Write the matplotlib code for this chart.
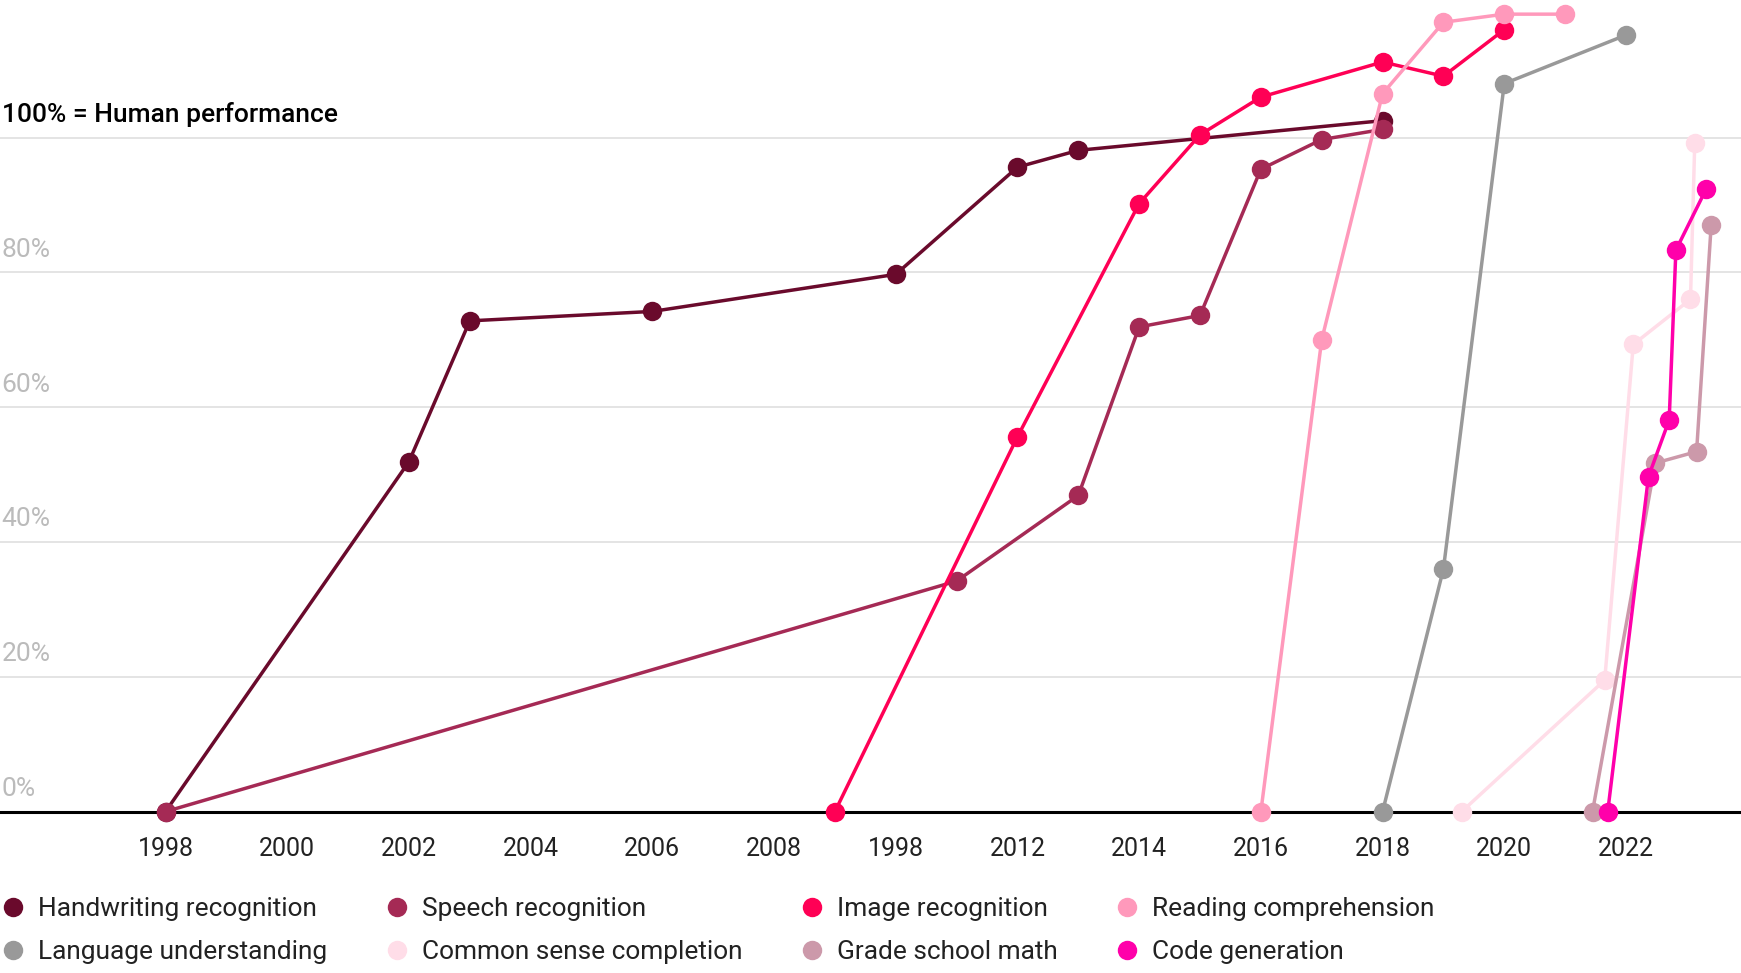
import matplotlib
matplotlib.use("Agg")
import matplotlib.pyplot as plt
from matplotlib.lines import Line2D
from matplotlib.transforms import blended_transform_factory

plt.rcParams["font.family"] = ["Roboto", "DejaVu Sans"]

# values (year, % of human performance)
handwriting_x = [1998, 2002, 2003, 2006, 2010, 2012, 2013, 2018]
handwriting_y = [0, 51.9, 72.8, 74.2, 79.7, 95.6, 98.1, 102.5]

speech_x = [1998, 2011, 2013, 2014, 2015, 2016, 2017, 2018]
speech_y = [0, 34.2, 46.9, 71.9, 73.6, 95.3, 99.7, 101.2]

image_x = [2009, 2012, 2014, 2015, 2016, 2018, 2019, 2020]
image_y = [0, 55.6, 90.2, 100.4, 106.0, 111.2, 109.1, 116.0]

reading_x = [2016, 2017, 2018, 2019, 2020, 2021]
reading_y = [0, 70.0, 106.5, 117.1, 118.3, 118.3]

language_x = [2018, 2019, 2020, 2022]
language_y = [0, 36.0, 108.0, 115.2]

common_x = [2019.3, 2021.65, 2022.12, 2023.06, 2023.13]
common_y = [0, 19.5, 69.3, 76.0, 99.2]

math_x = [2021.45, 2022.48, 2023.16, 2023.4]
math_y = [0, 51.7, 53.4, 87.0]

code_x = [2021.7, 2022.37, 2022.71, 2022.82, 2023.32]
code_y = [0, 49.7, 58.1, 83.3, 92.4]

series_names = ["Handwriting recognition", "Speech recognition", "Image recognition",
                "Reading comprehension", "Language understanding", "Common sense completion",
                "Grade school math", "Code generation"]
series_colors = ["#6a0a2c", "#a52a55", "#ff0055", "#ff99bb",
                 "#999999", "#ffdde8", "#cc99aa", "#ff00aa"]

tick_years = [1998, 2000, 2002, 2004, 2006, 2008, 2010, 2012, 2014, 2016, 2018, 2020, 2022]
tick_labels = ["1998", "2000", "2002", "2004", "2006", "2008", "1998",
               "2012", "2014", "2016", "2018", "2020", "2022"]
grid_values = [20, 40, 60, 80, 100]
grid_labels = ["20%", "40%", "60%", "80%", "100% = Human performance"]

all_x = [handwriting_x, speech_x, image_x, reading_x, language_x, common_x, math_x, code_x]
all_y = [handwriting_y, speech_y, image_y, reading_y, language_y, common_y, math_y, code_y]

fig = plt.figure(figsize=(17.41, 9.73), dpi=100)
ax = fig.add_axes([0, 1 - 811.6 / 973, 1, 811.6 / 973])
ax.set_xlim(1995.28, 2023.89)
ax.set_ylim(0, 120.4)

for v in grid_values:
    ax.axhline(v, color="#dddddd", lw=1.1, zorder=0)
ax.axhline(0, color="black", lw=2.2, zorder=1, clip_on=False)

trans = blended_transform_factory(ax.transAxes, ax.transData)
ax.text(0.001, 2.3, "0%", transform=trans, color="#bbbbbb", fontsize=19,
        va="baseline", ha="left")
for v, lab in zip(grid_values, grid_labels):
    if v == 100:
        ax.text(0.001, v + 2.3, lab, transform=trans, color="black", fontsize=19,
                fontweight="medium", va="baseline", ha="left")
    else:
        ax.text(0.001, v + 2.3, lab, transform=trans, color="#bbbbbb", fontsize=19,
                va="baseline", ha="left")

for xs, ys, c, name in zip(all_x, all_y, series_colors, series_names):
    ax.plot(xs, ys, color=c, lw=2.5, marker="o", markersize=14,
            markeredgewidth=0, label=name, clip_on=False, zorder=3)

ax.set_xticks(tick_years)
ax.set_xticklabels(tick_labels, fontsize=18, color="#222222")
ax.tick_params(axis="x", length=0, pad=18)
ax.set_yticks([])
for s in ax.spines.values():
    s.set_visible(False)

handles = [Line2D([], [], color=c, marker="o", linestyle="none", markersize=14,
                  markeredgewidth=0) for c in series_colors]
order = [0, 4, 1, 5, 2, 6, 3, 7]
fig.legend([handles[i] for i in order], [series_names[i] for i in order],
           ncol=4, loc="upper left", bbox_to_anchor=(0.0, 0.078),
           frameon=False, fontsize=18.9, handlelength=1.0, handletextpad=0.45,
           columnspacing=2.15, labelspacing=0.72, borderpad=0, borderaxespad=0,
           labelcolor="#222222")

fig.savefig("out.png", dpi=100)
